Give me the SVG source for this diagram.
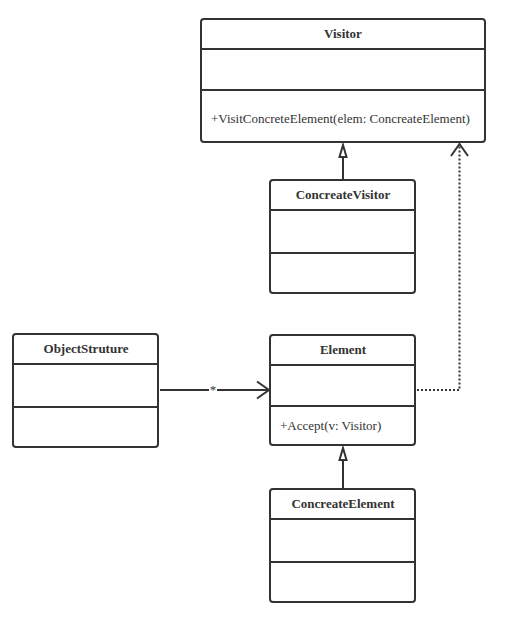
<svg xmlns="http://www.w3.org/2000/svg" width="512" height="621" viewBox="0 0 512 621">
<style>
.box{fill:#fff;stroke:#333;stroke-width:2}
.ln{stroke:#333;stroke-width:2;fill:none}
.t{font-family:"Liberation Serif",serif;font-size:13px;font-weight:bold;fill:#333;text-anchor:middle}
.m{font-family:"Liberation Serif",serif;font-size:13px;fill:#333}
</style>
<defs>
<marker id="tri" markerUnits="userSpaceOnUse" markerWidth="16" markerHeight="12" refX="14" refY="6" orient="auto" viewBox="0 0 16 12">
<path d="M2,2.5 L14,6 L2,9.5 Z" fill="#fff" stroke="#333" stroke-width="2"/>
</marker>
<marker id="open" markerUnits="userSpaceOnUse" markerWidth="16" markerHeight="20" refX="13" refY="10" orient="auto" viewBox="0 0 16 20">
<path d="M1,1.5 L13,10 L1,18.5" fill="none" stroke="#333" stroke-width="2"/>
</marker>
</defs>
<rect width="512" height="621" fill="#fff"/>
<g id="connectors">
<line class="ln" x1="343" y1="180" x2="343" y2="145" marker-end="url(#tri)"/>
<line class="ln" x1="343" y1="489" x2="343" y2="448" marker-end="url(#tri)"/>
<line class="ln" x1="160" y1="390" x2="269" y2="390" marker-end="url(#open)"/>
<rect x="209" y="383" width="8" height="12" fill="#fff"/>
<text class="m" x="213" y="394" text-anchor="middle">*</text>
<polyline class="ln" points="417,390 459.5,390 459.5,144" stroke-dasharray="2,2" marker-end="url(#open)"/>
</g>
<g id="Visitor">
<rect class="box" x="201" y="19" width="284" height="123" rx="3"/>
<line class="ln" x1="201" y1="49" x2="485" y2="49"/>
<line class="ln" x1="201" y1="90" x2="485" y2="90"/>
<text class="t" x="343" y="38">Visitor</text>
<text class="m" x="211" y="123">+VisitConcreteElement(elem: ConcreateElement)</text>
</g>
<g id="ConcreateVisitor">
<rect class="box" x="270" y="180" width="145" height="113" rx="3"/>
<line class="ln" x1="270" y1="210" x2="415" y2="210"/>
<line class="ln" x1="270" y1="253" x2="415" y2="253"/>
<text class="t" x="343" y="199">ConcreateVisitor</text>
</g>
<g id="ObjectStruture">
<rect class="box" x="13" y="334" width="145" height="113" rx="3"/>
<line class="ln" x1="13" y1="364" x2="158" y2="364"/>
<line class="ln" x1="13" y1="407" x2="158" y2="407"/>
<text class="t" x="86" y="353">ObjectStruture</text>
</g>
<g id="Element">
<rect class="box" x="270" y="335" width="145" height="110" rx="3"/>
<line class="ln" x1="270" y1="365" x2="415" y2="365"/>
<line class="ln" x1="270" y1="406" x2="415" y2="406"/>
<text class="t" x="343" y="354">Element</text>
<text class="m" x="280" y="430">+Accept(v: Visitor)</text>
</g>
<g id="ConcreateElement">
<rect class="box" x="270" y="489" width="145" height="113" rx="3"/>
<line class="ln" x1="270" y1="519" x2="415" y2="519"/>
<line class="ln" x1="270" y1="562" x2="415" y2="562"/>
<text class="t" x="343" y="508">ConcreateElement</text>
</g>
</svg>
